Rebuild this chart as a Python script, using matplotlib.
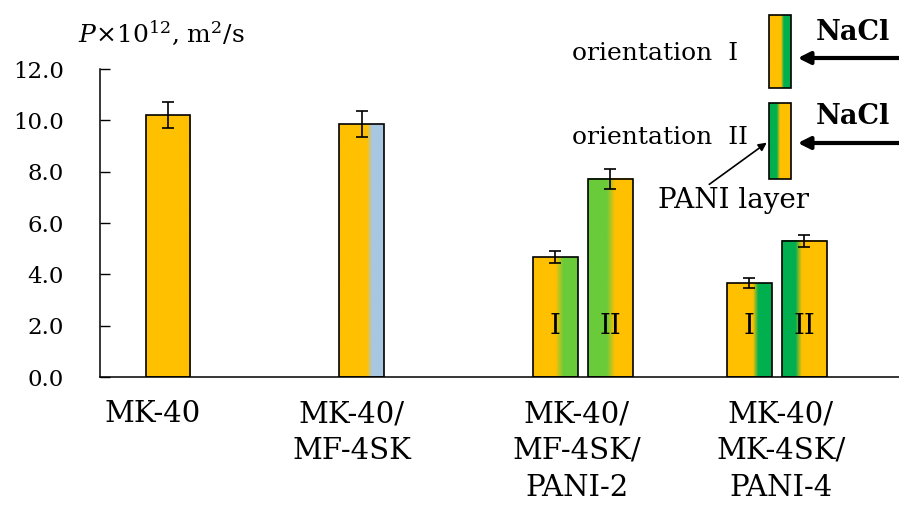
import numpy as np
import matplotlib.pyplot as plt
from matplotlib.colors import LinearSegmentedColormap

# --- data ---
categories = ["MK-40", "MK-40/\nMF-4SK", "MK-40/\nMF-4SK/\nPANI-2", "MK-40/\nMK-4SK/\nPANI-4"]
orient1 = [10.2, 9.85, 4.67, 3.65]
orient1_err = [0.5, 0.5, 0.23, 0.2]
orient2 = [np.nan, np.nan, 7.72, 5.3]
orient2_err = [np.nan, np.nan, 0.38, 0.25]
bar_marks = [None, None, ("I", "II"), ("I", "II")]

ORANGE = "#FFC000"
GREEN_L = "#6ACB3A"
GREEN_D = "#00AF4E"
BLUE = "#A8C7E2"

# colour stops (fraction across bar width) for each bar
stops1 = [
    [(0, ORANGE), (1, ORANGE)],
    [(0, ORANGE), (0.62, ORANGE), (0.74, BLUE), (1, BLUE)],
    [(0, ORANGE), (0.5, ORANGE), (0.68, GREEN_L), (1, GREEN_L)],
    [(0, ORANGE), (0.58, ORANGE), (0.7, GREEN_D), (1, GREEN_D)],
]
stops2 = [
    None, None,
    [(0, GREEN_L), (0.42, GREEN_L), (0.6, ORANGE), (1, ORANGE)],
    [(0, GREEN_D), (0.3, GREEN_D), (0.44, ORANGE), (1, ORANGE)],
]

plt.rcParams['font.family'] = ['DejaVu Serif']
plt.rcParams['mathtext.fontset'] = 'dejavuserif'

fig = plt.figure(figsize=(8.99, 5.11), dpi=100)
ax = fig.add_axes([100 / 899, (511 - 377) / 511, 799 / 899, 308 / 511])

width = 0.232
off1 = [0.351, 0.351, 0.351, 0.351]
off2 = 0.635
label_off = [0.27, 0.3, 0.46, 0.515]


def gradient_bar(x, h, stops):
    cmap = LinearSegmentedColormap.from_list("g", stops)
    ax.imshow(np.linspace(0, 1, 256)[None, :], cmap=cmap, aspect="auto",
              extent=(x - width / 2, x + width / 2, 0, h), zorder=2,
              interpolation="bilinear")
    ax.bar(x, h, width, color="none", edgecolor="black", linewidth=1.2, zorder=3)


for i in range(len(categories)):
    x1 = i + off1[i]
    gradient_bar(x1, orient1[i], stops1[i])
    ax.errorbar(x1, orient1[i], yerr=orient1_err[i], fmt="none", ecolor="black",
                elinewidth=1.2, capsize=4.3, capthick=1.2, zorder=4)
    if not np.isnan(orient2[i]):
        x2 = i + off2
        gradient_bar(x2, orient2[i], stops2[i])
        ax.errorbar(x2, orient2[i], yerr=orient2_err[i], fmt="none", ecolor="black",
                    elinewidth=1.2, capsize=4.3, capthick=1.2, zorder=4)
    if bar_marks[i]:
        ax.text(x1, 1.95, bar_marks[i][0], ha="center", va="center", fontsize=20, zorder=5)
        ax.text(x2, 1.95, bar_marks[i][1], ha="center", va="center", fontsize=20, zorder=5)
    ax.text(i + label_off[i], -0.075, categories[i], transform=ax.get_xaxis_transform(),
            ha="center", va="top", fontsize=21, linespacing=1.4)

ax.set_xlim(0, 799 / 193.7)
ax.set_ylim(0, 12)
ax.set_yticks(np.arange(0, 12.1, 2))
ax.set_yticklabels([f"{v:.1f}" for v in np.arange(0, 12.1, 2)])
ax.tick_params(axis="y", direction="in", length=7, width=1, labelsize=16.5, pad=26)
ax.set_xticks([])
for s in ["top", "right"]:
    ax.spines[s].set_visible(False)
for s in ["left", "bottom"]:
    ax.spines[s].set_linewidth(1.1)

fig.text(78 / 899, 1 - 42 / 511, r"$P$×10$^{12}$, m$^2$/s", fontsize=18, va="baseline")

# --- orientation legend (pixel overlay) ---
ov = fig.add_axes([0, 0, 1, 1], zorder=10)
ov.set_xlim(0, 899)
ov.set_ylim(511, 0)
ov.axis("off")
ov.patch.set_alpha(0)


def icon(x0, x1, y0, y1, stops):
    cmap = LinearSegmentedColormap.from_list("i", stops)
    ov.imshow(np.linspace(0, 1, 64)[None, :], cmap=cmap, aspect="auto",
              extent=(x0, x1, y1, y0), interpolation="bilinear")
    ov.add_patch(plt.Rectangle((x0, y0), x1 - x0, y1 - y0, fill=False,
                               edgecolor="black", linewidth=1.2))


icon(769, 791, 15, 88, [(0, ORANGE), (0.55, ORANGE), (0.68, GREEN_D), (1, GREEN_D)])
icon(769, 791, 103, 179, [(0, GREEN_D), (0.35, GREEN_D), (0.5, ORANGE), (1, ORANGE)])
ov.set_xlim(0, 899)
ov.set_ylim(511, 0)

ov.text(572, 53, "orientation  I", fontsize=18, va="center", ha="left")
ov.text(572, 137, "orientation  II", fontsize=18, va="center", ha="left")
ov.text(853, 33, "NaCl", fontsize=19.5, fontweight="bold", va="center", ha="center")
ov.text(853, 117, "NaCl", fontsize=19.5, fontweight="bold", va="center", ha="center")
ov.text(658, 201, "PANI layer", fontsize=20, va="center", ha="left")
for yy in [58, 143]:
    ov.annotate("", xy=(795, yy), xytext=(905, yy),
                arrowprops=dict(arrowstyle="-|>", lw=3, color="black", mutation_scale=18))
ov.annotate("", xy=(769, 141), xytext=(707, 186),
            arrowprops=dict(arrowstyle="-|>", lw=1.2, color="black", mutation_scale=12))

fig.savefig("out.png", dpi=100)
